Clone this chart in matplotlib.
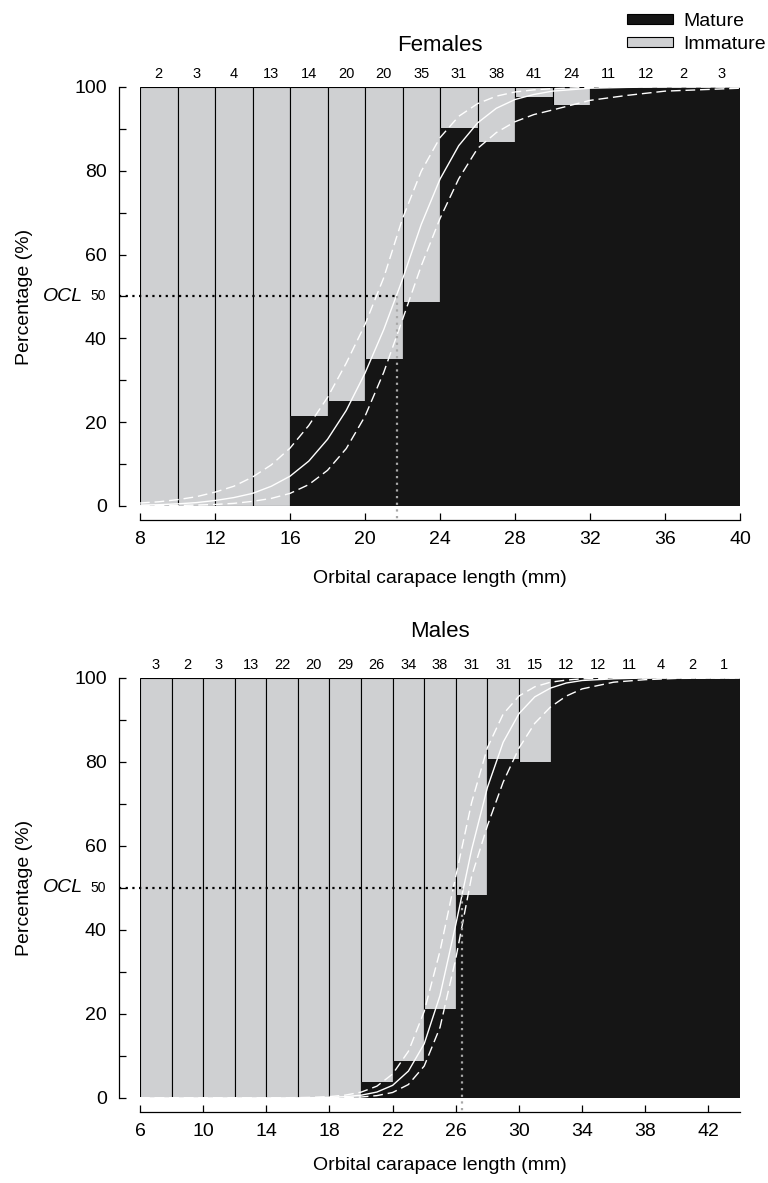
import matplotlib
matplotlib.use("Agg")
import matplotlib.pyplot as plt
import matplotlib.transforms as mtrans
from matplotlib.patches import Patch

plt.rcParams["font.family"] = ["Liberation Sans", "DejaVu Sans"]

# --- Females ---
fem_bins = [8, 10, 12, 14, 16, 18, 20, 22, 24, 26, 28, 30, 32, 34, 36, 38]
fem_n = [2, 3, 4, 13, 14, 20, 20, 35, 31, 38, 41, 24, 11, 12, 2, 3]
fem_mature = [0, 0, 0, 0, 21.4, 25.0, 35.0, 48.6, 90.3, 86.8, 97.6, 95.8, 100, 100, 100, 100]
fem_ocl = 21.7
fem_cx = [8, 9, 10, 11, 12, 13, 14, 15, 16, 17, 18, 19, 20, 21, 22, 23, 24, 25, 26, 27, 28, 29, 30, 32, 34, 36, 40]
fem_fit = [0.2, 0.3, 0.5, 0.8, 1.3, 2.0, 3.0, 4.7, 7.1, 10.7, 15.9, 22.8, 31.7, 42.1, 54.1, 67.2,
           78.0, 86.0, 91.4, 94.9, 97.0, 98.2, 99.0, 99.7, 99.9, 100, 100]
fem_hi = [0.7, 1.0, 1.5, 2.2, 3.3, 4.7, 6.9, 9.8, 13.8, 19.2, 25.9, 34.1, 43.3, 54.5, 68.6, 79.9,
          87.9, 93.0, 96.0, 97.8, 98.8, 99.3, 99.6, 99.9, 100, 100, 100]
fem_lo = [0.04, 0.07, 0.12, 0.21, 0.36, 0.62, 1.1, 1.8, 3.0, 5.1, 8.5, 13.7, 21.4, 31.9, 44.5, 57.3,
          68.6, 78.1, 85.3, 89.1, 91.7, 93.4, 94.5, 96.8, 98.0, 99.0, 99.7]
fem_ticks = [8, 12, 16, 20, 24, 28, 32, 36, 40]

# --- Males ---
mal_bins = [6, 8, 10, 12, 14, 16, 18, 20, 22, 24, 26, 28, 30, 32, 34, 36, 38, 40, 42]
mal_n = [3, 2, 3, 13, 22, 20, 29, 26, 34, 38, 31, 31, 15, 12, 12, 11, 4, 2, 1]
mal_mature = [0, 0, 0, 0, 0, 0, 0, 3.8, 8.8, 21.1, 48.4, 80.6, 80.0, 100, 100, 100, 100, 100, 100]
mal_ocl = 26.4
mal_cx = [6, 10, 14, 16, 17, 18, 19, 20, 21, 22, 23, 24, 25, 26, 27, 28, 29, 30, 31, 32, 33, 34, 36, 38, 40, 44]
mal_fit = [0, 0, 0.006, 0.03, 0.06, 0.14, 0.30, 0.65, 1.4, 3.0, 6.4, 12.9, 24.4, 41.3, 59.1, 73.9,
           84.7, 91.5, 95.5, 97.6, 98.8, 99.4, 99.8, 100, 100, 100]
mal_hi = [0, 0, 0.02, 0.08, 0.16, 0.32, 0.67, 1.38, 2.8, 5.7, 11.1, 20.6, 35.0, 52.8, 70.3, 83.4,
          91.4, 95.7, 97.9, 99.0, 99.5, 99.8, 99.95, 100, 100, 100]
mal_lo = [0, 0, 0, 0.006, 0.015, 0.04, 0.09, 0.22, 0.55, 1.3, 3.2, 7.6, 16.8, 33.2, 52.7, 64.8,
          75.2, 83.3, 89.2, 93.1, 95.7, 97.4, 99.0, 99.6, 99.9, 100]
mal_ticks = [6, 10, 14, 18, 22, 26, 30, 34, 38, 42]

BLACK = "#151515"
GREY = "#cfd0d2"
FS = 14
DASH = (0, (7, 3.5))


def panel(ax, title, bins, n, mature, ocl, cx, fit, hi, lo, ticks, xlim, title_y, xlab_y):
    ax.bar(bins, [100] * len(bins), width=2, align="edge", color=GREY,
           edgecolor="black", linewidth=0.8, zorder=1)
    ax.bar(bins, mature, width=2, align="edge", color=BLACK, linewidth=0, zorder=2)

    ax.plot(cx, fit, color="white", lw=1.0, zorder=3)
    ax.plot(cx, hi, color="white", lw=1.0, ls=DASH, zorder=3)
    ax.plot(cx, lo, color="white", lw=1.0, ls=DASH, zorder=3)

    ax.set_xlim(*xlim)
    ax.set_ylim(0, 100)

    # OCL50 guide lines
    span = xlim[1] - xlim[0]
    x0 = xlim[0] - span * 21 / 600
    ax.plot([x0, ocl], [50, 50], color="black", lw=1.6, ls=(0, (1, 2)),
            clip_on=False, zorder=4)
    ax.plot([ocl, ocl], [50, -3.3], color="#a8a8a8", lw=1.6, ls=(0, (1, 2)),
            clip_on=False, zorder=4)

    for sp in ["top", "right"]:
        ax.spines[sp].set_visible(False)
    ax.spines["left"].set_position(("outward", 15))
    ax.spines["bottom"].set_position(("outward", 10))
    ax.spines["left"].set_linewidth(0.9)
    ax.spines["bottom"].set_linewidth(0.9)

    ax.set_yticks([0, 20, 40, 60, 80, 100])
    ax.set_yticks([10, 30, 50, 70, 90], minor=True)
    ax.set_xticks(ticks)
    ax.tick_params(which="both", direction="in", length=5, width=0.9, labelsize=FS)
    ax.tick_params(axis="y", pad=9)
    ax.tick_params(axis="x", pad=8)

    ax.set_ylabel("Percentage (%)", fontsize=FS)
    ax.yaxis.set_label_coords(-0.178, 0.5)
    ax.set_xlabel("Orbital carapace length (mm)", fontsize=FS)
    ax.xaxis.set_label_coords(0.5, xlab_y)

    ytr = ax.get_yaxis_transform()
    ax.text(-0.056, 50, "50", transform=ytr, ha="right", va="center", fontsize=10)
    ax.text(-0.162, 50, "OCL", transform=ytr, ha="left", va="center",
            fontsize=FS, style="italic")

    xtr = mtrans.blended_transform_factory(ax.transData, ax.transAxes)
    for b, c in zip(bins, n):
        ax.text(b + 1, 1.032, str(c), transform=xtr, ha="center", va="center", fontsize=10.5)

    ax.text(0.5, title_y, title, transform=ax.transAxes, ha="center", va="center", fontsize=16)


fig = plt.figure(figsize=(7.68, 11.83), dpi=100)
ax1 = fig.add_axes([0.1823, 0.5723, 0.78125, 0.3542])
ax2 = fig.add_axes([0.1823, 0.0719, 0.78125, 0.3550])

panel(ax1, "Females", fem_bins, fem_n, fem_mature, fem_ocl, fem_cx, fem_fit, fem_hi, fem_lo,
      fem_ticks, (8, 40), 1.098, -0.153)
panel(ax2, "Males", mal_bins, mal_n, mal_mature, mal_ocl, mal_cx, mal_fit, mal_hi, mal_lo,
      mal_ticks, (6, 44), 1.111, -0.141)

handles = [Patch(facecolor=BLACK, edgecolor="black", linewidth=0.8),
           Patch(facecolor=GREY, edgecolor="black", linewidth=0.8)]
fig.legend(handles, ["Mature", "Immature"], loc="upper right", bbox_to_anchor=(1.012, 0.999),
           frameon=False, fontsize=FS, handlelength=2.4, handleheight=0.42,
           handletextpad=0.5, labelspacing=0.3, borderaxespad=0.2)

fig.savefig("out.png", dpi=100)
